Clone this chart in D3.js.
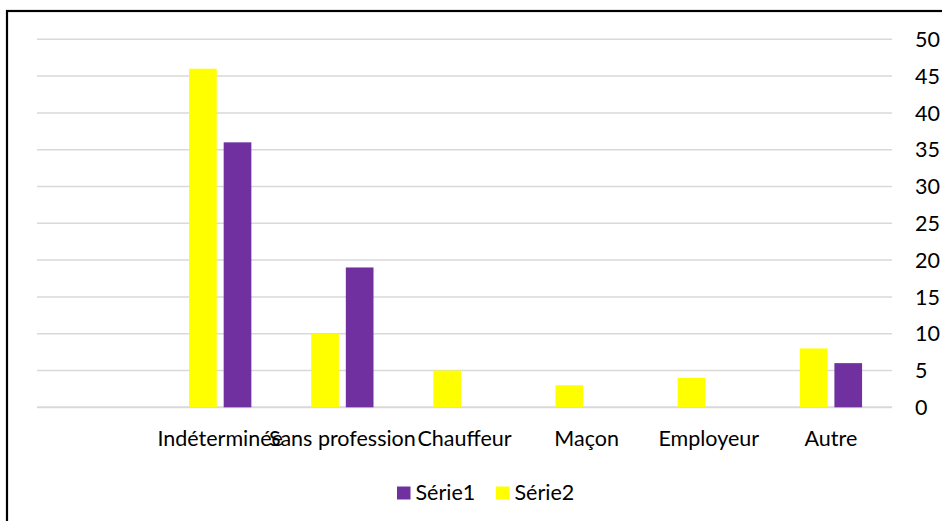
<!DOCTYPE html>
<html><head><meta charset="utf-8">
<script src="https://cdn.jsdelivr.net/npm/d3@7"></script>
<style>body{margin:0;background:#fff;} svg{display:block;}</style>
</head><body>
<svg id="c" width="942" height="521"></svg>
<script>
const categories = ["", "Indéterminée", "Sans profession", "Chauffeur", "Maçon", "Employeur", "Autre"];
const serie1 = [0, 36, 19, 0, 0, 0, 6];
const serie2 = [0, 46, 10, 5, 3, 4, 8];
const seriesNames = ["Série1", "Série2"];
const barOrder = ["Série2", "Série1"];
const yTicks = [0, 5, 10, 15, 20, 25, 30, 35, 40, 45, 50];
const colors = {"Série1": "#7030A0", "Série2": "#FFFF00"};
const values = {"Série1": serie1, "Série2": serie2};

const FONT = "Lato, Calibri, sans-serif";
const FS = 21.5;
const svg = d3.select("#c");

// frame
svg.append("rect").attr("x", 7).attr("y", 11).attr("width", 1000).attr("height", 600)
  .attr("fill", "none").attr("stroke", "#000").attr("stroke-width", 2.2);

const plotLeft = 37, plotRight = 892, plotTop = 39.3, plotBottom = 407.3;
const x0 = d3.scaleBand().domain(categories.map((c, i) => i)).range([plotLeft, plotRight])
  .paddingInner(0.49).paddingOuter(0.245);
const x1 = d3.scaleBand().domain(barOrder).range([0, x0.bandwidth()]).paddingInner(0.2);
const y = d3.scaleLinear().domain([0, 50]).range([plotBottom, plotTop]);

// gridlines
svg.append("g").selectAll("line").data(yTicks).join("line")
  .attr("x1", plotLeft).attr("x2", plotRight)
  .attr("y1", d => y(d)).attr("y2", d => y(d))
  .attr("stroke", "#d9d9d9").attr("stroke-width", d => d === 0 ? 2 : 1.5);

// right axis labels
svg.append("g").selectAll("text").data(yTicks).join("text")
  .attr("x", 915).attr("y", d => y(d) + FS * 0.36)
  .attr("font-family", FONT).attr("font-size", FS).attr("fill", "#000")
  .text(d => d);

// bars
categories.forEach((c, i) => {
  barOrder.forEach(s => {
    const v = values[s][i];
    if (v > 0) {
      svg.append("rect")
        .attr("x", x0(i) + x1(s)).attr("width", x1.bandwidth())
        .attr("y", y(v)).attr("height", y(0) - y(v))
        .attr("fill", colors[s]);
    }
  });
});

// x labels
svg.append("g").selectAll("text").data(categories).join("text")
  .attr("x", (d, i) => x0(i) + x0.bandwidth() / 2).attr("y", 446)
  .attr("text-anchor", "middle")
  .attr("font-family", FONT).attr("font-size", FS).attr("fill", "#000")
  .text(d => d);

// legend
const legend = svg.append("g");
const legX = [397, 496];
seriesNames.forEach((s, i) => {
  legend.append("rect").attr("x", legX[i]).attr("y", 486.5).attr("width", 13.5).attr("height", 13)
    .attr("fill", colors[s]);
  legend.append("text").attr("x", legX[i] + 18.5).attr("y", 492 + FS * 0.36)
    .attr("font-family", FONT).attr("font-size", FS).attr("fill", "#000").text(s);
});
</script>
</body></html>
